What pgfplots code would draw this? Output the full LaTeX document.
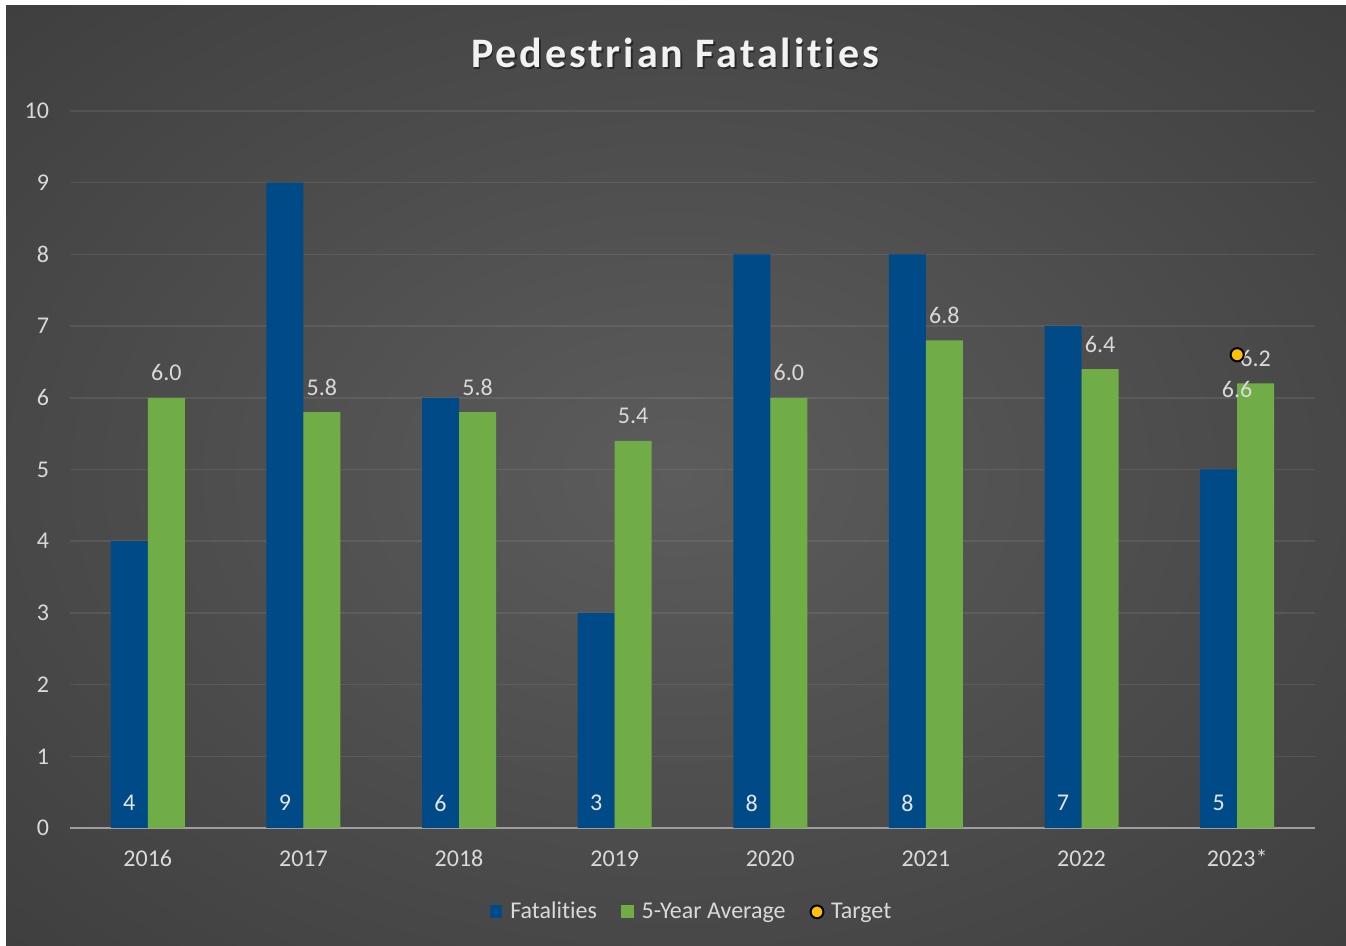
\documentclass[border=0pt]{standalone}
\usepackage{pgfplots}
\pgfplotsset{compat=1.18}
\usepackage{fontspec}
\setmainfont{Carlito}[Ligatures=NoCommon]
\newfontfamily\titlefont{Carlito}[LetterSpace=7, Ligatures=NoCommon]

\definecolor{fatblue}{HTML}{004B87}
\definecolor{avggreen}{HTML}{70AD47}
\definecolor{labelgray}{HTML}{D9D9D9}
\definecolor{bgin}{HTML}{5C5C5C}
\definecolor{bgmid}{HTML}{333333}
\definecolor{bgout}{HTML}{262626}
\definecolor{targetyellow}{HTML}{FFC000}
\pgfdeclareradialshading{chartbg}{\pgfpoint{0bp}{0bp}}{color(0bp)=(bgin); color(50bp)=(bgmid); color(72bp)=(bgout)}

\begin{document}
\begin{tikzpicture}
\path[use as bounding box] (0pt,0pt) rectangle (673pt,473pt);
\fill[white] (0pt,0pt) rectangle (673pt,473pt);
\shade[shading=chartbg] (3pt,0pt) rectangle (673pt,470pt);

\begin{axis}[
    at={(35pt,59pt)}, anchor=south west,
    scale only axis, width=622.5pt, height=358.5pt,
    xmin=-0.5, xmax=7.5, ymin=0, ymax=10,
    clip=false,
    axis x line*=bottom, axis y line*=left,
    x axis line style={draw=white!62!black, line width=1pt, -},
    y axis line style={draw=none},
    tick style={draw=none},
    ymajorgrids,
    grid style={white, opacity=0.08, line width=0.75pt},
    ytick={0,1,...,10},
    xtick={0,1,...,7},
    xticklabels={2016,2017,2018,2019,2020,2021,2022,2023*},
    /pgf/number format/assume math mode=true,
    tick label style={font=\fontsize{12}{14}\selectfont, text=labelgray},
    yticklabel style={xshift=-7pt},
    xticklabel style={anchor=base, yshift=-19.5pt},
    every node near coord/.append style={font=\fontsize{12}{14}\selectfont},
    legend style={at={(0.5,-0.117)}, anchor=center, legend columns=3,
        draw=none, fill=none, text=labelgray,
        font=\fontsize{12}{14}\selectfont,
        /tikz/every even column/.append style={column sep=10pt}},
]
% Fatalities
\addplot[ybar, bar width=18.5pt, bar shift=-9.25pt, fill=fatblue, draw=none,
    nodes near coords,
    visualization depends on={rawy \as \rawy},
    every node near coord/.append style={anchor=center, xshift=-9.25pt, yshift={12.5pt-\rawy*35.85pt}, text=white!90!black},
    legend image code/.code={\fill[fatblue] (0pt,-3.2pt) rectangle (6.4pt,3.2pt); \path (8.3pt,0pt);}]
    coordinates {(0,4) (1,9) (2,6) (3,3) (4,8) (5,8) (6,7) (7,5)};
\addlegendentry{Fatalities}
% 5-year average
\addplot[ybar, bar width=18.5pt, bar shift=9.25pt, fill=avggreen, draw=none,
    nodes near coords={\pgfmathprintnumber[fixed,fixed zerofill,precision=1]{\pgfplotspointmeta}},
    every node near coord/.append style={anchor=center, xshift=9.25pt, yshift=12.5pt, text=labelgray},
    legend image code/.code={\fill[avggreen] (0pt,-3.2pt) rectangle (6.4pt,3.2pt); \path (8.3pt,0pt);}]
    coordinates {(0,6.0) (1,5.8) (2,5.8) (3,5.4) (4,6.0) (5,6.8) (6,6.4) (7,6.2)};
\addlegendentry{5-Year Average}
% target
\addplot[only marks, mark=*, mark size=3.3pt,
    mark options={fill=targetyellow, draw=black, line width=1pt},
    nodes near coords={\pgfmathprintnumber[fixed,fixed zerofill,precision=1]{\pgfplotspointmeta}},
    every node near coord/.append style={anchor=center, yshift=-17.5pt, text=labelgray},
    legend image code/.code={\draw[fill=targetyellow, draw=black, line width=1pt] (3.5pt,0pt) circle (3.2pt); \path (8.3pt,0pt);}]
    coordinates {(7,6.6)};
\addlegendentry{Target}
\end{axis}

% title with soft shadow
\node[font=\titlefont\bfseries\fontsize{21}{25}\selectfont, text=black, opacity=0.45] at (338.3pt,445.7pt) {Pedestrian Fatalities};
\node[font=\titlefont\bfseries\fontsize{21}{25}\selectfont, text=white!95!black] at (337.5pt,446.5pt) {Pedestrian Fatalities};
\end{tikzpicture}
\end{document}
